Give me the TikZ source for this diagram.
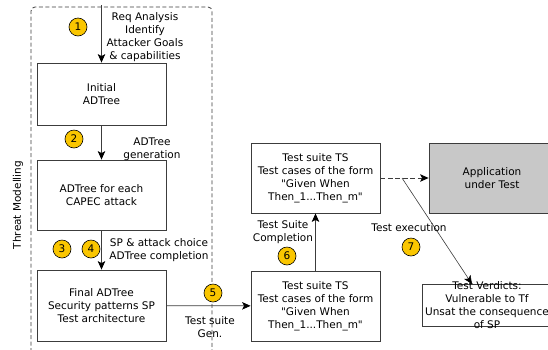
\documentclass[tikz,border=0pt]{standalone}
\usepackage{fontspec}
\setmainfont{DejaVu Sans}[Ligatures=TeXOff]
\usetikzlibrary{arrows.meta}
\definecolor{badge}{RGB}{250,198,0}
\definecolor{sut}{RGB}{200,200,200}
\definecolor{edge}{RGB}{60,60,60}

\begin{document}
\begin{tikzpicture}[x=1pt,y=-1pt,
  font=\fontsize{10.5}{13}\selectfont,
  box/.style = {draw=edge, line width=0.8pt, minimum width=129pt, minimum height=62pt, align=center, inner sep=0pt},
  badge/.style = {circle, draw=black, line width=0.6pt, fill=badge, minimum size=18pt, inner sep=0pt},
  tag/.style = {align=center, inner sep=0pt},
  frame/.style = {draw=edge, line width=0.8pt, dash pattern=on 4pt off 2.5pt, rounded corners=4pt},
  arr/.style = {line width=0.8pt, draw=edge, -{Stealth[length=8.5pt,width=7.5pt,inset=2pt,color=black,fill=black]}},
]

  \useasboundingbox (0,0) rectangle (548,349);

  %\draw[help lines,step=20] (0,0) grid (548,349);

  \draw[frame] (31,365) |- (212,7) -- (212,365);
  \node[rotate=90] (threat) at (18,205) {Threat Modelling};

  \node[box] (init) at (101.5,94) {Initial\\ADTree};
  \node[box, minimum height=70pt] (capec) at (101.5,195) {ADTree for each\\CAPEC attack};
  \node[box, minimum height=71pt] (final) at (101.5,305.5) {Final ADTree\\Security patterns SP\\Test architecture};

  \node[box, minimum height=70pt] (tsgen) at (315.5,306) {Test suite TS\\Test cases of the form\\"Given When\\Then\_1...Then\_m"};
  \node[box, minimum height=70pt] (tsdone) at (315.5,178) {Test suite TS\\Test cases of the form\\"Given When\\Then\_1...Then\_m"};
  \node[box, fill=sut, minimum width=126pt, minimum height=70pt] (app) at (492,178) {Application\\under Test};
  \node[box, minimum width=130pt, minimum height=0pt, inner ysep=-2.5pt] (verdict) at (487,305.5) {Test Verdicts:\\Vulnerable to Tf\\Unsat the consequence\\of SP};

  \coordinate (start) at (101.5,5);
  \coordinate (fork) at (402,178);

  \draw[arr] (start) -- (init);
  \draw[arr] (init) -- (capec);
  \draw[arr] (capec) -- (final);
  \draw[arr] (final) -- (tsgen);
  \draw[arr] (tsgen) -- (tsdone);
  \draw[arr, dash pattern=on 5pt off 2.5pt] (tsdone) -- (app);
  \draw[arr, line width=0.6pt] (fork) -- ([xshift=-15pt]verdict.north);

  \node[tag] (req) at (145,37) {Req Analysis\\Identify\\Attacker Goals\\\& capabilities};
  \node[tag] (gen) at (152,149) {ADTree\\generation};
  \node[tag] (choice) at (159,250) {SP \& attack choice\\ADTree completion};
  \node[tag] (tsg) at (210,327) {Test suite\\Gen.};
  \node[tag] (compl) at (283,232) {Test Suite\\Completion};
  \node[tag] (exec) at (409,228) {Test execution};

  \node[badge] (b1) at (78,27) {1};
  \node[badge] (b2) at (74,139) {2};
  \node[badge] (b3) at (62,249) {3};
  \node[badge] (b4) at (91,249) {4};
  \node[badge] (b5) at (213,293) {5};
  \node[badge] (b6) at (287,256) {6};
  \node[badge] (b7) at (411,247) {7};

\end{tikzpicture}
\end{document}
